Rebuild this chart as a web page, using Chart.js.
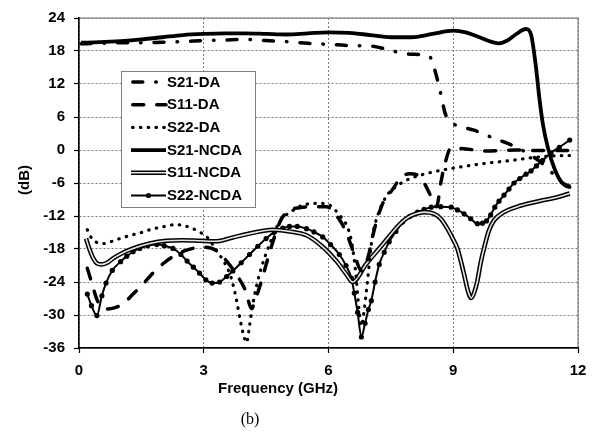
<!DOCTYPE html>
<html><head><meta charset="utf-8">
<script src="https://cdn.jsdelivr.net/npm/chart.js@4.4.1/dist/chart.umd.min.js"></script>
<style>html,body{margin:0;padding:0;background:#fff;}canvas{display:block;}</style>
</head><body>
<canvas id="c" width="597" height="438"></canvas>
<script>
// ---- data ----
const seriesNames = ['S21-DA', 'S11-DA', 'S22-DA', 'S21-NCDA', 'S11-NCDA', 'S22-NCDA'];
const xTicks = [0, 3, 6, 9, 12];
const yTicks = [-36, -30, -24, -18, -12, -6, 0, 6, 12, 18, 24];
const xTitle = 'Frequency (GHz)';
const yTitle = '(dB)';
const caption = '(b)';

const s21daX = [0.05, 0.5, 1.0, 1.5, 2.0, 2.5, 3.0, 3.5, 4.0, 4.5, 5.0, 5.5, 6.0, 6.5, 7.0, 7.3, 7.6, 8.0, 8.42, 8.55, 8.66, 8.72, 8.8, 8.92, 9.17, 9.5, 9.86, 10.1, 10.6, 11.1, 11.45, 11.7, 11.82];
const s21daY = [19.3, 19.4, 19.5, 19.5, 19.6, 19.7, 19.9, 20.0, 20.1, 19.9, 19.7, 19.4, 19.2, 19.0, 18.9, 18.5, 17.9, 17.4, 17.1, 14.7, 11.5, 9.5, 6.8, 5.2, 4.3, 3.6, 2.5, 1.8, 0.2, -2.2, -4.7, -6.5, -6.8];

const s11daX = [0.2, 0.3, 0.45, 0.65, 0.85, 1.05, 1.3, 1.55, 1.8, 2.05, 2.3, 2.55, 2.8, 3.05, 3.3, 3.55, 3.8, 4.0, 4.15, 4.25, 4.4, 4.55, 4.7, 4.85, 5.05, 5.3, 5.6, 5.95, 6.2, 6.4, 6.6, 6.8, 6.95, 7.1, 7.3, 7.5, 7.75, 7.95, 8.15, 8.3, 8.45, 8.6, 8.7, 8.8, 8.95, 9.3, 9.8, 10.5, 11.0, 11.8];
const s11daY = [-21.5, -24.0, -27.5, -28.9, -28.7, -28.0, -26.2, -24.3, -22.2, -20.5, -19.2, -18.3, -17.8, -17.7, -18.3, -20.2, -22.8, -25.5, -28.8, -27.0, -23.5, -19.5, -15.8, -12.8, -11.0, -10.5, -10.3, -10.3, -12.0, -14.5, -18.5, -22.0, -19.5, -14.5, -9.8, -7.6, -5.0, -4.3, -4.6, -6.0, -8.2, -10.3, -6.0, -2.5, 0.4, 0.2, -0.2, 0.0, -0.1, -0.1];

const s22daX = [0.2, 0.3, 0.4, 0.6, 0.9, 1.2, 1.5, 1.75, 2.0, 2.3, 2.5, 2.7, 2.9, 3.1, 3.3, 3.5, 3.65, 3.78, 3.88, 3.97, 4.03, 4.1, 4.18, 4.34, 4.58, 4.82, 5.1, 5.4, 5.75, 6.02, 6.26, 6.43, 6.55, 6.65, 6.72, 6.79, 6.86, 6.95, 7.05, 7.2, 7.4, 7.6, 7.9, 8.4, 9.0, 9.8, 10.4, 10.9, 11.3, 11.8];
const s22daY = [-14.5, -16.0, -16.7, -17.0, -16.3, -15.6, -15.0, -14.4, -14.0, -13.6, -13.7, -14.2, -14.9, -16.0, -18.2, -20.5, -23.0, -27.0, -31.0, -34.0, -35.0, -32.0, -28.0, -22.6, -17.2, -13.1, -11.2, -10.0, -9.7, -10.0, -11.8, -13.6, -16.5, -22.0, -28.0, -32.0, -29.0, -23.0, -16.0, -11.5, -8.3, -6.8, -5.4, -4.2, -3.3, -2.4, -1.9, -1.4, -1.1, -1.0];

const s21ncdaX = [0.05, 0.5, 1.0, 1.5, 2.0, 2.5, 3.0, 3.5, 4.0, 4.5, 5.0, 5.5, 6.0, 6.5, 7.0, 7.5, 8.0, 8.5, 9.0, 9.3, 9.6, 9.9, 10.1, 10.3, 10.5, 10.75, 10.87, 10.99, 11.07, 11.16, 11.28, 11.44, 11.6, 11.75, 11.82];
const s21ncdaY = [19.5, 19.6, 19.8, 20.1, 20.5, 20.9, 21.1, 21.2, 21.2, 21.1, 21.0, 21.2, 21.4, 21.3, 20.9, 20.5, 20.5, 21.1, 21.7, 21.4, 20.6, 19.7, 19.4, 19.9, 21.0, 22.0, 21.0, 15.0, 9.5, 4.5, 0.3, -3.5, -5.8, -6.5, -6.6];

const s11ncdaX = [0.17, 0.25, 0.35, 0.43, 0.55, 0.7, 0.82, 1.0, 1.3, 1.7, 2.1, 2.5, 2.9, 3.3, 3.7, 4.1, 4.66, 5.06, 5.47, 5.86, 6.19, 6.43, 6.58, 6.9, 7.3, 7.7, 7.9, 8.1, 8.3, 8.54, 8.7, 8.86, 9.0, 9.1, 9.26, 9.35, 9.43, 9.5, 9.58, 9.66, 9.74, 9.85, 9.98, 10.22, 10.63, 11.18, 11.5, 11.8];
const s11ncdaY = [-16.1, -18.0, -19.8, -20.6, -20.8, -20.4, -19.7, -18.9, -17.9, -17.0, -16.5, -16.4, -16.5, -16.6, -15.9, -15.2, -14.5, -14.8, -15.5, -17.6, -20.2, -22.6, -24.0, -20.8, -17.2, -13.6, -12.3, -11.6, -11.3, -11.6, -12.5, -14.3, -16.3, -17.9, -22.6, -25.5, -26.9, -26.0, -23.8, -20.5, -17.9, -14.8, -12.8, -11.3, -10.1, -9.1, -8.6, -7.9];

const s22ncdaX = [0.2, 0.3, 0.43, 0.55, 0.65, 0.8, 1.0, 1.15, 1.3, 1.46, 1.65, 1.87, 2.05, 2.26, 2.45, 2.6, 2.75, 2.9, 3.05, 3.2, 3.38, 3.55, 3.7, 3.9, 4.1, 4.3, 4.5, 4.7, 4.9, 5.06, 5.25, 5.47, 5.65, 5.86, 6.05, 6.26, 6.42, 6.55, 6.62, 6.7, 6.79, 6.88, 6.96, 7.03, 7.12, 7.22, 7.34, 7.46, 7.62, 7.78, 7.95, 8.14, 8.3, 8.47, 8.7, 8.95, 9.1, 9.26, 9.42, 9.58, 9.7, 9.8, 9.9, 10.0, 10.1, 10.22, 10.34, 10.46, 10.6, 10.75, 10.87, 11.0, 11.15, 11.35, 11.55, 11.8];
const s22ncdaY = [-26.2, -28.3, -30.1, -26.5, -24.2, -21.9, -20.3, -19.3, -18.5, -17.9, -17.4, -17.2, -17.4, -17.9, -19.0, -20.2, -21.3, -22.4, -23.6, -24.2, -24.0, -23.0, -22.0, -20.5, -19.0, -17.5, -16.1, -14.9, -14.2, -13.9, -13.9, -14.3, -14.9, -15.8, -17.2, -19.0, -21.0, -23.3, -26.0, -29.5, -34.0, -31.5, -29.0, -27.4, -24.0, -20.8, -18.6, -16.7, -14.8, -13.1, -12.1, -11.3, -10.8, -10.4, -10.3, -10.4, -10.9, -11.6, -12.5, -13.4, -13.3, -12.9, -11.8, -10.4, -9.3, -8.2, -7.1, -6.0, -5.2, -4.4, -3.8, -2.9, -1.9, -0.5, 0.5, 1.8];

// ---- build ----
const pts = (xs, ys) => xs.map((x, i) => ({ x: x, y: ys[i] }));
const base = { fill: false, pointRadius: 0, pointHoverRadius: 0, cubicInterpolationMode: 'monotone', borderColor: '#000' };

const datasets = [
  Object.assign({}, base, { label: seriesNames[0], data: pts(s21daX, s21daY), borderWidth: 3.5, borderDash: [10, 13, 0.5, 13], borderCapStyle: 'round' }),
  Object.assign({}, base, { label: seriesNames[1], data: pts(s11daX, s11daY), borderWidth: 3.5, borderDash: [11, 13], borderCapStyle: 'round' }),
  Object.assign({}, base, { label: seriesNames[2], data: pts(s22daX, s22daY), borderWidth: 3.2, borderDash: [0.5, 7.3], borderCapStyle: 'round' }),
  Object.assign({}, base, { label: seriesNames[3], data: pts(s21ncdaX, s21ncdaY), borderWidth: 3.8 }),
  Object.assign({}, base, { label: seriesNames[4] + '-inner', data: pts(s11ncdaX, s11ncdaY), borderWidth: 1.6, borderColor: '#e6e6e6' }),
  Object.assign({}, base, { label: seriesNames[4], data: pts(s11ncdaX, s11ncdaY), borderWidth: 4.6 }),
  Object.assign({}, base, { label: seriesNames[5], data: pts(s22ncdaX, s22ncdaY), borderWidth: 2, pointRadius: 2.6, pointBackgroundColor: '#000', pointBorderWidth: 0 })
];

const FONT = '"Liberation Sans", Arial, sans-serif';

const frame = {
  id: 'frame',
  beforeDraw(chart) {
    const a = chart.chartArea, ctx = chart.ctx;
    ctx.save();
    ctx.strokeStyle = '#9a9a9a'; ctx.lineWidth = 1.5;
    ctx.strokeRect(a.left, a.top, a.right - a.left, a.bottom - a.top);
    ctx.restore();
  },
  afterDraw(chart) {
    const ctx = chart.ctx;
    ctx.save();
    // titles
    ctx.fillStyle = '#000';
    ctx.font = 'bold 15px ' + FONT;
    ctx.textAlign = 'center'; ctx.textBaseline = 'middle';
    ctx.fillText(xTitle, 278, 389);
    ctx.save(); ctx.translate(25, 180); ctx.rotate(-Math.PI / 2); ctx.fillText(yTitle, 0, 0); ctx.restore();
    ctx.font = '16px "Liberation Serif", "Times New Roman", serif';
    ctx.fillText(caption, 250, 420);

    // legend box
    const bx = 121.5, by = 71.5, bw = 134, bh = 136;
    ctx.fillStyle = '#fff'; ctx.fillRect(bx, by, bw, bh);
    ctx.strokeStyle = '#808080'; ctx.lineWidth = 1; ctx.strokeRect(bx, by, bw, bh);
    const rows = [0, 1, 2, 3, 5, 6];
    rows.forEach((di, i) => {
      const ds = chart.data.datasets[di];
      const y = 82 + i * 22.7;
      const x1 = 131, x2 = 166;
      const stroke = (w, col, dash, cap) => {
        ctx.save(); ctx.beginPath(); ctx.lineWidth = w; ctx.strokeStyle = col;
        ctx.setLineDash(dash || []); ctx.lineCap = cap || 'butt';
        ctx.moveTo(x1 + (cap === 'round' ? w / 2 : 0), y); ctx.lineTo(x2, y); ctx.stroke(); ctx.restore();
      };
      stroke(ds.borderWidth, ds.borderColor, ds.borderDash, ds.borderCapStyle);
      if (di === 5) { const inner = chart.data.datasets[4]; stroke(inner.borderWidth, inner.borderColor, null, null); }
      if (ds.pointRadius) { ctx.beginPath(); ctx.fillStyle = '#000'; ctx.arc((x1 + x2) / 2, y, ds.pointRadius, 0, Math.PI * 2); ctx.fill(); }
      ctx.fillStyle = '#000'; ctx.font = 'bold 15px ' + FONT; ctx.textAlign = 'left'; ctx.textBaseline = 'middle';
      ctx.fillText(ds.label, 167, y + 0.5);
    });
    ctx.restore();
  }
};

new Chart(document.getElementById('c'), {
  type: 'line',
  data: { datasets: datasets },
  options: {
    responsive: false, animation: false, events: [],
    layout: { padding: { left: 0, right: 19, top: 13, bottom: 0 } },
    plugins: { legend: { display: false }, tooltip: { enabled: false } },
    scales: {
      x: {
        type: 'linear', min: 0, max: 12,
        afterBuildTicks: s => { s.ticks = xTicks.map(v => ({ value: v })); },
        afterFit: s => { s.height = 90; },
        grid: { color: '#7a7a7a', lineWidth: 1, tickColor: '#000', tickLength: 5, tickWidth: 1.2 },
        border: { display: true, color: '#000', width: 1.5, dash: [2, 2] },
        ticks: { color: '#000', font: { family: FONT, size: 15, weight: 'bold' }, padding: 9, maxRotation: 0, autoSkip: false }
      },
      y: {
        type: 'linear', min: -36, max: 24,
        afterBuildTicks: s => { s.ticks = yTicks.map(v => ({ value: v })); },
        afterFit: s => { s.width = 79; },
        grid: { color: '#7a7a7a', lineWidth: 1, tickColor: '#000', tickLength: 5, tickWidth: 1.2 },
        border: { display: true, color: '#000', width: 1.5, dash: [2, 2] },
        ticks: { color: '#000', font: { family: FONT, size: 15, weight: 'bold' }, padding: 9, autoSkip: false }
      }
    }
  },
  plugins: [frame]
});
</script>
</body></html>
